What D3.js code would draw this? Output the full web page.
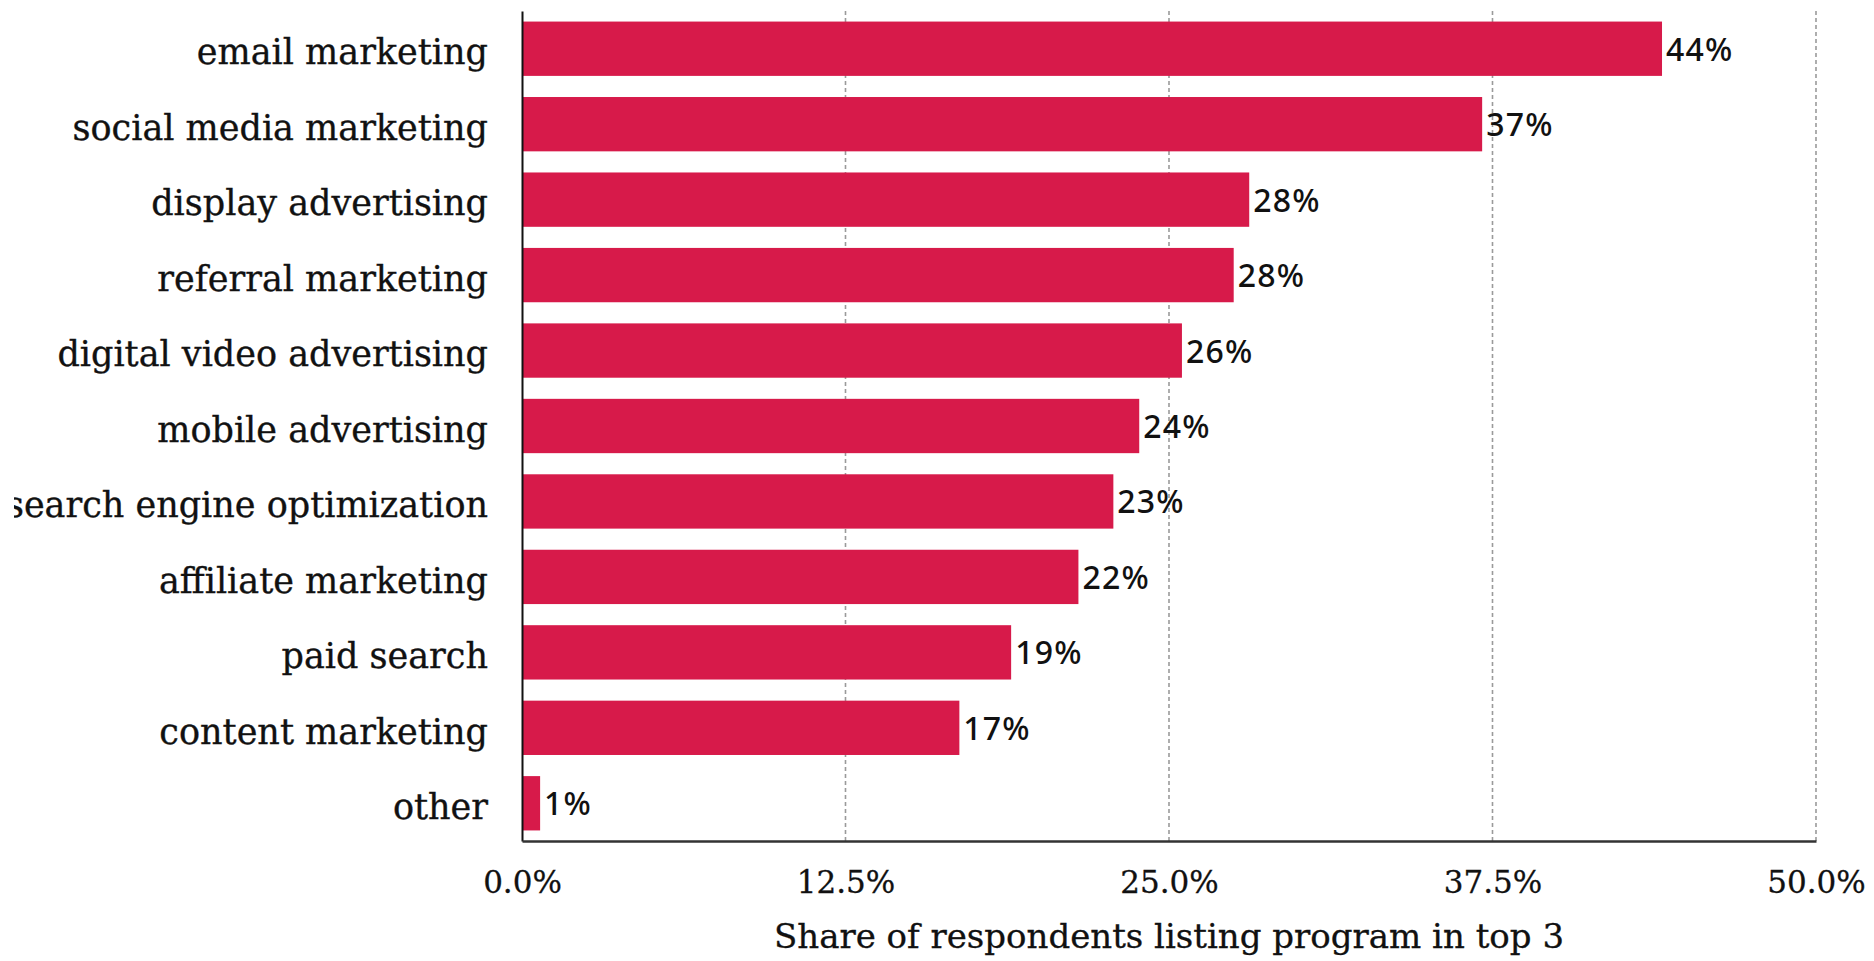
<!DOCTYPE html>
<html>
<head>
<meta charset="utf-8">
<script src="https://cdn.jsdelivr.net/npm/d3@7"></script>
<style>
  html, body { margin: 0; padding: 0; background: #ffffff; }
  svg { display: block; }
</style>
</head>
<body>
<svg id="chart" width="1874" height="961"></svg>
<script>
// Marketing programs, top to bottom
const categories = [
  "email marketing",
  "social media marketing",
  "display advertising",
  "referral marketing",
  "digital video advertising",
  "mobile advertising",
  "search engine optimization",
  "affiliate marketing",
  "paid search",
  "content marketing",
  "other"
];

// Share of respondents listing each program in their top 3 (%)
const shares = [44.05, 37.1, 28.1, 27.5, 25.5, 23.85, 22.85, 21.5, 18.9, 16.9, 0.7];

// X axis ticks (%)
const xTicks = [0, 12.5, 25, 37.5, 50];

const axisTitle = "Share of respondents listing program in top 3";

const serif = "'DejaVu Serif', serif";
const sans = "'Noto Sans', Lato, sans-serif";
const barColor = "#d71a4a";

const svg = d3.select("#chart");
const margin = { left: 522, right: 58, top: 11, bottom: 120 };
const W = 1874, H = 961;
const plotRight = W - margin.right;
const plotBottom = H - margin.bottom;

// The drawing area starts a little in from the left edge, so long labels get cut there
svg.append("defs").append("clipPath").attr("id", "frame")
  .append("rect").attr("x", 14).attr("y", 0).attr("width", W - 14).attr("height", H);
const root = svg.append("g").attr("clip-path", "url(#frame)");

const x = d3.scaleLinear().domain([0, 50]).range([margin.left, plotRight]);
const y = d3.scaleBand()
  .domain(categories)
  .range([margin.top, plotBottom])
  .paddingInner(0.28)
  .paddingOuter(0.14);

const rows = categories.map((c, i) => ({ name: c, value: shares[i] }));

// Dashed vertical gridlines
root.append("g")
  .selectAll("line")
  .data(xTicks.filter(d => d > 0))
  .join("line")
  .attr("x1", d => x(d)).attr("x2", d => x(d))
  .attr("y1", margin.top).attr("y2", plotBottom)
  .attr("stroke", "#9a9a9a")
  .attr("stroke-width", 1.6)
  .attr("stroke-dasharray", "4,3");

// Bars
root.append("g")
  .selectAll("rect")
  .data(rows)
  .join("rect")
  .attr("x", x(0))
  .attr("y", d => y(d.name))
  .attr("width", d => x(d.value) - x(0))
  .attr("height", y.bandwidth())
  .attr("fill", barColor);

// Value labels at bar ends
root.append("g")
  .selectAll("text")
  .data(rows)
  .join("text")
  .attr("x", d => x(d.value) + 4)
  .attr("y", d => y(d.name) + y.bandwidth() / 2 + 12)
  .attr("font-family", sans)
  .attr("font-size", 32)
  .attr("font-weight", 500)
  .attr("letter-spacing", "1.2px")
  .attr("fill", "#111")
  .text(d => Math.round(d.value) + "%");

// Y axis with category labels
const yAxis = root.append("g")
  .attr("transform", `translate(${margin.left},0)`)
  .call(d3.axisLeft(y).tickSize(0).tickPadding(34));
yAxis.select(".domain").attr("stroke", "#111").attr("stroke-width", 2);
yAxis.selectAll("text")
  .attr("font-family", serif)
  .attr("font-size", 35)
  .attr("fill", "#111")
  .attr("stroke", "#111")
  .attr("stroke-width", 0.35)
  .attr("dy", "0.45em");

// X axis with percentage ticks
const xAxis = root.append("g")
  .attr("transform", `translate(0,${plotBottom})`)
  .call(d3.axisBottom(x).tickValues(xTicks).tickSize(0).tickPadding(30)
    .tickFormat(d => d.toFixed(1) + "%"));
xAxis.select(".domain").attr("stroke", "#333").attr("stroke-width", 2.5);
xAxis.selectAll("text")
  .attr("font-family", serif)
  .attr("font-size", 31)
  .attr("fill", "#111")
  .attr("stroke", "#111")
  .attr("stroke-width", 0.3);

// Axis title
root.append("text")
  .attr("x", (margin.left + plotRight) / 2)
  .attr("y", 948)
  .attr("text-anchor", "middle")
  .attr("font-family", serif)
  .attr("font-size", 34)
  .attr("fill", "#111")
  .attr("stroke", "#111")
  .attr("stroke-width", 0.3)
  .text(axisTitle);
</script>
</body>
</html>
